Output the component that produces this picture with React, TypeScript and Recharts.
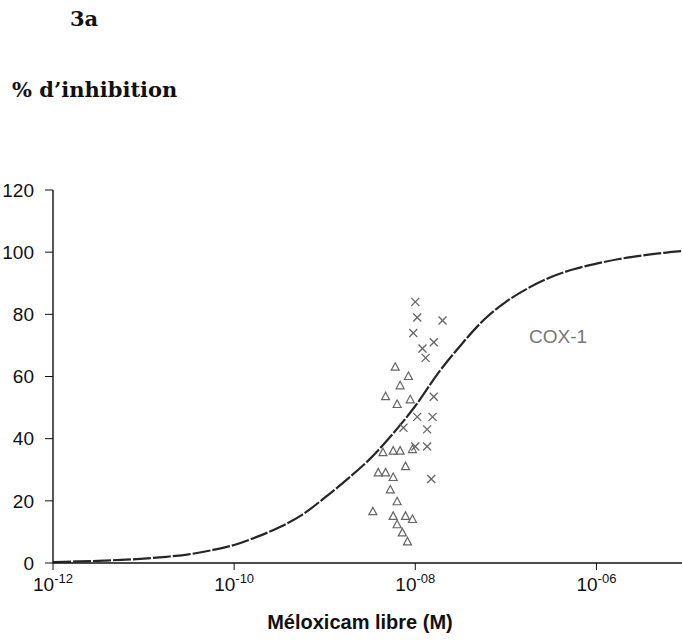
import { ComposedChart, Line, Scatter, XAxis, YAxis } from 'recharts';

// fitted curve (concentration in M, % inhibition)
const curveConc = [
  1e-12, 1.78e-12, 3.16e-12, 5.62e-12, 1e-11, 1.78e-11, 3.16e-11, 5.62e-11,
  1e-10, 1.78e-10, 3.16e-10, 5.62e-10, 1e-9, 1.78e-9, 3.16e-9, 5.62e-9,
  1e-8, 1.78e-8, 3.16e-8, 5.62e-8, 1e-7, 1.78e-7, 3.16e-7, 5.62e-7,
  1e-6, 1.78e-6, 3.16e-6, 5.62e-6, 1e-5,
];
const curveInhib = [
  0.3, 0.5, 0.7, 1.0, 1.4, 2.0, 2.8, 4.1,
  5.8, 8.4, 11.5, 15.5, 21, 27, 33.5, 41.5,
  50.5, 61, 70, 78, 84, 88.5, 92, 94.5,
  96.3, 97.8, 98.9, 99.8, 100.5,
];

// measured points, triangles
const triConc = [
  6.0e-9, 8.4e-9, 6.8e-9, 4.7e-9, 6.3e-9, 8.8e-9, 4.4e-9, 5.7e-9, 6.8e-9, 9.3e-9, 3.9e-9, 4.7e-9,
  7.8e-9, 5.7e-9, 5.3e-9, 6.3e-9, 3.4e-9, 5.7e-9, 7.8e-9, 9.3e-9, 6.3e-9, 7.2e-9, 8.2e-9,
];
const triInhib = [
  63, 60, 57, 53.5, 51, 52.5, 35.5, 36, 36, 36.5, 29, 29,
  31, 27.5, 23.5, 19.7, 16.5, 15, 15, 14, 12.3, 9.7, 6.8,
];

// measured points, crosses
const crossConc = [
  1.0e-8, 1.05e-8, 2.0e-8, 9.5e-9, 1.6e-8, 1.2e-8, 1.3e-8, 1.6e-8,
  1.05e-8, 1.55e-8, 7.4e-9, 1.35e-8, 1.35e-8, 1.0e-8, 1.5e-8,
];
const crossInhib = [84, 79, 78, 74, 71, 69, 66, 53.5, 47, 47, 43.5, 43, 37.5, 37.5, 27];

const xTicks = [1e-12, 1e-10, 1e-8, 1e-6];
const yTicks = [0, 20, 40, 60, 80, 100, 120];

const curve = curveConc.map((x, i) => ({ x, y: curveInhib[i] }));
const triangles = triConc.map((x, i) => ({ x, y: triInhib[i] }));
const crosses = crossConc.map((x, i) => ({ x, y: crossInhib[i] }));

const sans = '"Liberation Sans", Arial, sans-serif';
const serif = '"DejaVu Serif", serif';
const markColor = '#666';

function XTick({ x, y, payload }: any) {
  const exp = Math.round(Math.log10(payload.value));
  const sup = (exp < 0 ? '-' : '') + String(Math.abs(exp)).padStart(2, '0');
  return (
    <text x={x} y={y + 15} textAnchor="middle" fontFamily={sans} fontSize={19} fill="#111">
      <tspan>10</tspan>
      <tspan dy={-8} fontSize={13}>{sup}</tspan>
    </text>
  );
}

function Triangle({ cx, cy }: any) {
  return (
    <polygon
      points={`${cx},${cy - 4.5} ${cx - 4},${cy + 3} ${cx + 4},${cy + 3}`}
      fill="none"
      stroke={markColor}
      strokeWidth={1.2}
    />
  );
}

function Cross({ cx, cy }: any) {
  return (
    <g stroke={markColor} strokeWidth={1.3}>
      <line x1={cx - 4} y1={cy - 4} x2={cx + 4} y2={cy + 4} />
      <line x1={cx - 4} y1={cy + 4} x2={cx + 4} y2={cy - 4} />
    </g>
  );
}

export default function App() {
  return (
    <div style={{ position: 'absolute', left: 0, top: 0, width: 682, height: 643, overflow: 'hidden', background: '#fff' }}>
      <ComposedChart width={690} height={643} margin={{ top: 190, right: 3, left: 0, bottom: 0 }}>
        <XAxis
          type="number"
          dataKey="x"
          scale="log"
          domain={[1e-12, 1e-5]}
          allowDataOverflow
          ticks={xTicks}
          tick={<XTick />}
          height={80}
          tickSize={7}
          tickMargin={6}
          axisLine={{ stroke: '#111', strokeWidth: 1.4 }}
          tickLine={{ stroke: '#111' }}
        />
        <YAxis
          type="number"
          dataKey="y"
          domain={[0, 120]}
          ticks={yTicks}
          width={53}
          tickSize={8}
          tickMargin={11}
          tick={{ fontFamily: sans, fontSize: 19, fill: '#111' }}
          axisLine={{ stroke: '#111', strokeWidth: 1.4 }}
          tickLine={{ stroke: '#111' }}
        />
        <Line
          data={curve}
          dataKey="y"
          type="monotone"
          stroke="#262626"
          strokeWidth={2.2}
          strokeDasharray="18 2"
          dot={false}
          isAnimationActive={false}
        />
        <Scatter data={triangles} dataKey="y" shape={<Triangle />} isAnimationActive={false} />
        <Scatter data={crosses} dataKey="y" shape={<Cross />} isAnimationActive={false} />
      </ComposedChart>
      <svg width={682} height={643} style={{ position: 'absolute', left: 0, top: 0, pointerEvents: 'none' }}>
        <text x={70} y={26} fontFamily={serif} fontWeight="bold" fontSize={21} fill="#111">3a</text>
        <text x={12} y={97} fontFamily={serif} fontWeight="bold" fontSize={21} fill="#111">% d’inhibition</text>
        <text x={529} y={343} fontFamily={sans} fontSize={19} fill="#777">COX-1</text>
        <text x={360} y={629} textAnchor="middle" fontFamily={sans} fontWeight="bold" fontSize={20} fill="#111">
          Méloxicam libre (M)
        </text>
      </svg>
    </div>
  );
}
